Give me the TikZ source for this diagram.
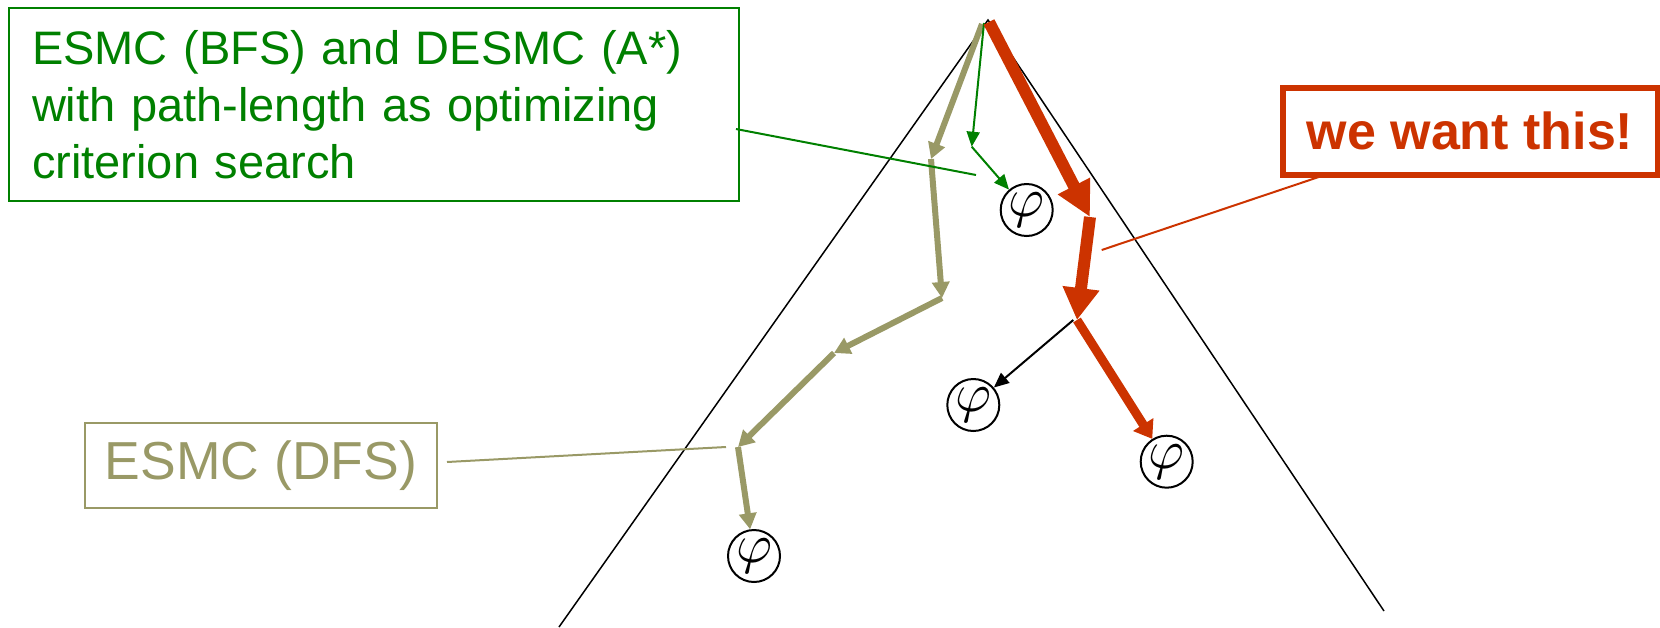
\RequirePackage{fix-cm}
\documentclass[tikz,border=0pt]{standalone}
\usepackage{fontspec}
\setmainfont{Liberation Sans}
\usetikzlibrary{arrows.meta}
\definecolor{cgreen}{RGB}{0,128,0}
\definecolor{colive}{RGB}{153,153,102}
\definecolor{cred}{RGB}{204,51,0}
\begin{document}
\begin{tikzpicture}[x=1pt,y=-1pt,
  phinode/.style={circle,draw=black,line width=2pt,minimum size=52pt,inner sep=0pt,
    label={[inner sep=0pt,font=\fontsize{10}{10}\selectfont]center:\scalebox{5.5}{$\varphi$}}},
  treeline/.style={black,line width=1.5pt},
  oarrow/.style={colive,line width=6pt,-{Triangle[length=16pt,width=17pt]}},
  garrow/.style={cgreen,line width=2pt,-{Triangle[length=15pt,width=13pt]}},
  karrow/.style={black,line width=2pt,-{Triangle[length=15pt,width=13pt]}},
  rarrowA/.style={cred,line width=12pt,-{Triangle[length=35pt,width=34pt]}},
  rarrowB/.style={cred,line width=12pt,-{Triangle[length=32pt,width=35pt]}},
  rarrowC/.style={cred,line width=9pt,-{Triangle[length=17pt,width=23pt]}},
  callout/.style={line width=2pt},
]
\useasboundingbox (0,0) rectangle (1660,627);

% tree outline
\coordinate (apex) at (988,20);
\coordinate (tl) at (559,627);
\coordinate (tr) at (1384,611);
\draw[treeline] (tl) -- (apex) -- (tr);

% goal nodes
\node[phinode] (phiG) at (1026.7,210) {};
\node[phinode] (phiK) at (973.3,405) {};
\node[phinode] (phiR) at (1166.7,461.7) {};
\node[phinode] (phiD) at (754,556) {};

% olive DFS path
\coordinate (o0) at (982,24);
\coordinate (o1) at (931,159);
\coordinate (o2) at (942,298);
\coordinate (o3) at (834,353);
\coordinate (o4) at (738,447);
\draw[oarrow] (o0) -- (o1);
\draw[oarrow] (o1) -- (o2);
\draw[oarrow] (o2) -- (o3);
\draw[oarrow] (o3) -- (o4);
\draw[oarrow] (o4) -- (phiD);

% green BFS path
\coordinate (g0) at (984,23);
\coordinate (g1) at (971.7,146.7);
\draw[garrow] (g0) -- (g1);
\draw[garrow] (g1) -- (phiG);

% red path
\coordinate (r0) at (989,22);
\coordinate (r1) at (1090,217);
\coordinate (r2) at (1077,320);
\draw[rarrowA] (r0) -- (r1);
\draw[rarrowB] (r1) -- (r2);
\draw[rarrowC] (r2) -- (phiR);

% black branch
\coordinate (k0) at (1073.3,320);
\draw[karrow] (k0) -- (phiK);

% boxes
\node[draw=cgreen,line width=2pt,text=cgreen,anchor=north west,
  minimum width=730pt,minimum height=193pt,text width=684pt,inner xsep=23pt,
  align=left,font=\fontsize{47}{57}\selectfont] (gbox) at (8,7)
  {ESMC (BFS) and DESMC (A*)\\with path-length as optimizing\\criterion search};

\node[draw=cred,line width=6pt,text=cred,anchor=north west,
  minimum width=375pt,minimum height=87pt,inner sep=0pt,
  font=\fontsize{52}{52}\selectfont\bfseries] (rbox) at (1279.5,84.5) {we want this!};

\node[draw=colive,line width=2pt,text=colive,anchor=north west,
  minimum width=352pt,minimum height=85pt,inner sep=0pt,
  font=\fontsize{53.5}{53.5}\selectfont] (obox) at (84,422) {ESMC (DFS)};

% callout lines
\coordinate (gc1) at (736,129);
\coordinate (gc2) at (976,175);
\draw[callout,cgreen] (gc1) -- (gc2);
\coordinate (rc1) at (1321.7,176);
\coordinate (rc2) at (1101.7,250);
\draw[callout,cred] (rc1) -- (rc2);
\coordinate (oc1) at (447,462);
\coordinate (oc2) at (726,447);
\draw[callout,colive] (oc1) -- (oc2);
\end{tikzpicture}
\end{document}
